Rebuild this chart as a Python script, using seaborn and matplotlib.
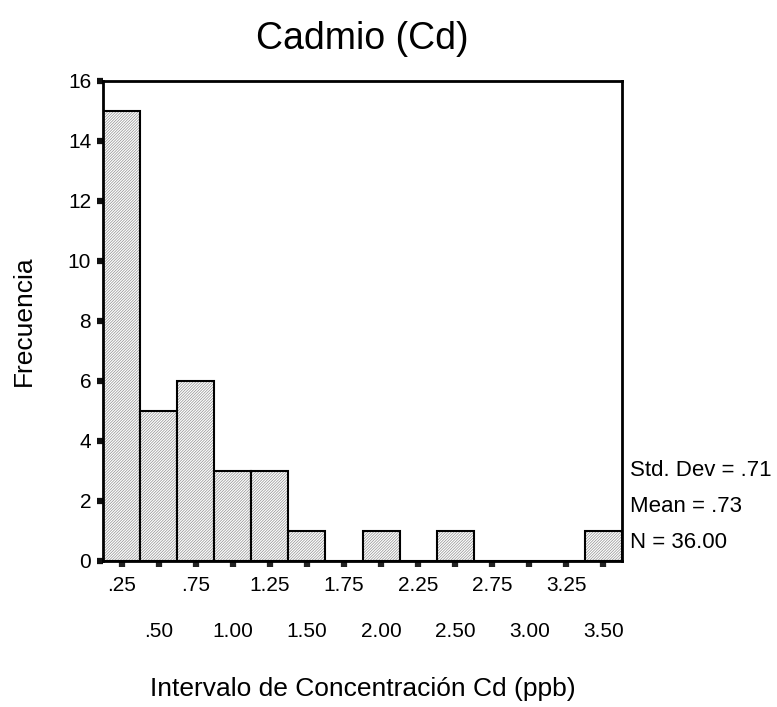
import numpy as np
import pandas as pd
import matplotlib
matplotlib.use("Agg")
import matplotlib.pyplot as plt
import seaborn as sns

# Data
bin_centers = [0.25, 0.50, 0.75, 1.00, 1.25, 1.50, 1.75, 2.00, 2.25, 2.50, 2.75, 3.00, 3.25, 3.50]
counts = [15, 5, 6, 3, 3, 1, 0, 1, 0, 1, 0, 0, 0, 1]
xtick_labels = [".25", ".50", ".75", "1.00", "1.25", "1.50", "1.75", "2.00",
                "2.25", "2.50", "2.75", "3.00", "3.25", "3.50"]
yticks = [0, 2, 4, 6, 8, 10, 12, 14, 16]
stats_lines = ["Std. Dev = .71", "Mean = .73", "N = 36.00"]
title = "Cadmio (Cd)"
xlabel = "Intervalo de Concentración Cd (ppb)"
ylabel = "Frecuencia"

sns.set_style("white")
plt.rcParams['font.family'] = ['Liberation Sans', 'DejaVu Sans']
plt.rcParams['text.color'] = 'black'
plt.rcParams['axes.labelcolor'] = 'black'
plt.rcParams['xtick.labelcolor'] = 'black'
plt.rcParams['ytick.labelcolor'] = 'black'
plt.rcParams['hatch.color'] = '#909090'
plt.rcParams['hatch.linewidth'] = 0.5

fig = plt.figure(figsize=(7.77, 7.07), dpi=100)
ax = fig.add_axes([103/777, 1-561/707, (622-103)/777, (561-81)/707])

width = 0.25
edges = [round(c - width/2, 3) for c in bin_centers] + [round(bin_centers[-1] + width/2, 3)]
df = pd.DataFrame({"center": bin_centers, "count": counts})
sns.histplot(data=df, x="center", weights="count", bins=edges, ax=ax,
             color='white', edgecolor='black', linewidth=1.5, alpha=1)
for p in ax.patches:
    p.set_hatch('/' * 12)
    if hasattr(p, "set_hatchcolor"):
        p.set_hatchcolor('#909090')
    else:
        p._hatch_color = matplotlib.colors.to_rgba('#909090')

ax.set_xlim(edges[0], edges[-1])
ax.set_ylim(0, 16)

for s in ax.spines.values():
    s.set_visible(True)
    s.set_color('black')
    s.set_linewidth(2)

ax.set_yticks(yticks)
ax.set_yticklabels([str(v) for v in yticks])
ax.tick_params(axis='y', direction='out', length=4.5, width=4.5, color='#111111',
               pad=4, left=True, labelsize=15)

major = bin_centers[0::2]
minor = bin_centers[1::2]
ax.set_xticks(major)
ax.set_xticklabels(xtick_labels[0::2])
ax.set_xticks(minor, minor=True)
ax.set_xticklabels(xtick_labels[1::2], minor=True)
ax.tick_params(axis='x', which='major', direction='out', length=4, width=4.5, color='#222222',
               pad=7, bottom=True, labelsize=15)
ax.tick_params(axis='x', which='minor', direction='out', length=4, width=4.5, color='#222222',
               pad=40, bottom=True, labelsize=15)

ax.set_xlabel(xlabel, fontsize=19, labelpad=26)
ax.set_ylabel(ylabel, fontsize=19, labelpad=23)
ax.set_title(title, fontsize=27, pad=23)

for i, line in enumerate(stats_lines):
    ax.text(1.015, 0.1875 - i*0.075, line, transform=ax.transAxes, fontsize=16,
            va='center', ha='left')

fig.savefig("out.png", dpi=100)
